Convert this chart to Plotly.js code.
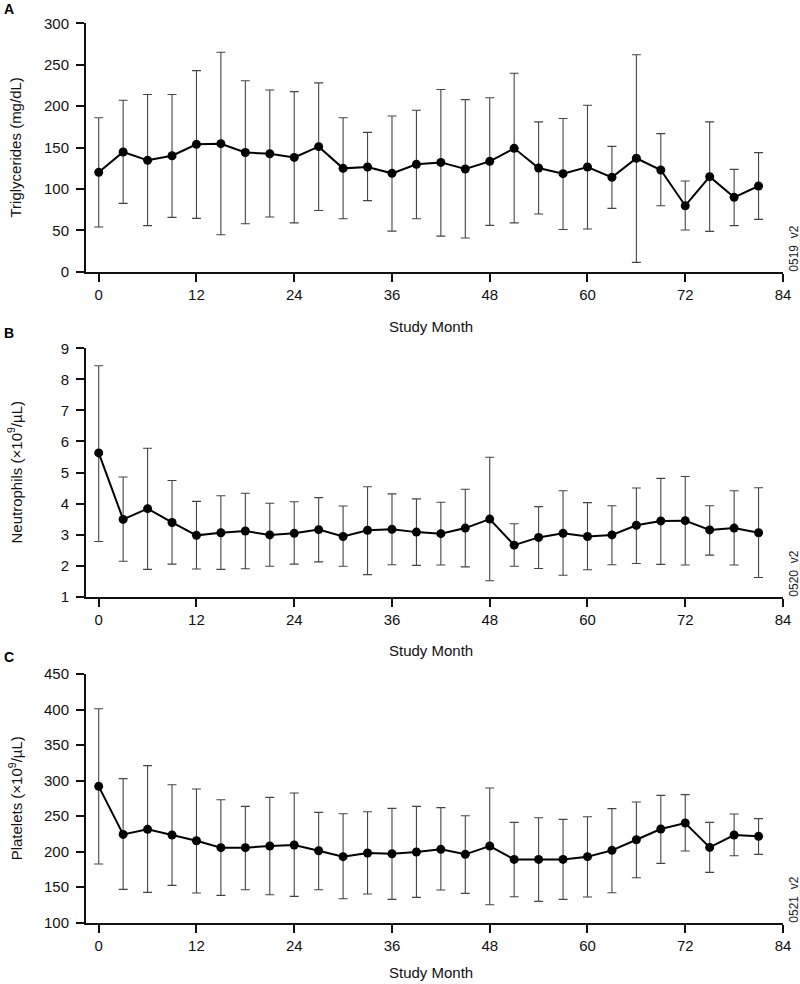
<!DOCTYPE html>
<html>
<head>
<meta charset="utf-8">
<script src="https://cdn.plot.ly/plotly-3.0.1.min.js"></script>
<style>html,body{margin:0;padding:0;background:#fff;}#chart{width:800px;height:984px;}</style>
</head>
<body>
<div id="chart"></div>
<script>
// Study months (x values)
const months = [0,3,6,9,12,15,18,21,24,27,30,33,36,39,42,45,48,51,54,57,60,63,66,69,72,75,78,81];

// Panel A: Triglycerides (mg/dL)
const trigMean  = [120,144.6,134.5,140,153.8,154.6,144,142.5,138,151,124.8,126.4,118.8,129.7,132,124,133.3,149,125.2,118.4,126.4,114,137,122.8,79.7,114.8,89.8,103.5];
const trigUpper = [186,207,214,214,242.8,265,230.7,219.5,217.5,228,186,168.3,188,195,220,207.8,210,239.6,181,185,201,151.4,262,166.7,109.5,181,123.6,143.8];
const trigLower = [54,82.5,55.6,65.6,64.4,44.7,58,66,59,74,64,85.8,49,64,43,40.7,56,59,69.7,51,51.5,76.5,11.3,79.7,50.3,48.7,55.6,63.2];

// Panel B: Neutrophils (x10^9/µL)
const neutMean  = [5.63,3.49,3.835,3.39,2.976,3.06,3.115,2.99,3.04,3.16,2.94,3.14,3.17,3.08,3.03,3.21,3.50,2.66,2.91,3.04,2.94,2.99,3.30,3.44,3.45,3.15,3.21,3.06];
const neutUpper = [8.44,4.855,5.78,4.74,4.07,4.25,4.33,4.01,4.06,4.19,3.92,4.54,4.31,4.15,4.04,4.46,5.49,3.35,3.90,4.41,4.03,3.93,4.50,4.81,4.87,3.93,4.41,4.51];
const neutLower = [2.78,2.14,1.88,2.05,1.89,1.88,1.90,1.98,2.05,2.12,1.98,1.71,2.03,2.01,2.02,1.96,1.515,1.98,1.91,1.69,1.87,2.03,2.07,2.04,2.02,2.34,2.02,1.62];

// Panel C: Platelets (x10^9/µL)
const platMean  = [291.9,224.3,231.4,223.4,215.4,205.6,205.6,207.9,209.3,201.3,192.9,198.1,197.1,199.5,203.2,196.2,207.9,189.1,189.1,189.1,192.9,201.8,216.8,231.8,240.3,206,223.4,221.5];
const platUpper = [401.2,302.7,321,294.2,288.1,273.1,263.7,276.4,282.5,255.3,253.4,256.2,260.9,263.7,261.9,250.6,289.5,241.2,247.8,245.4,249.2,260.5,269.8,279.2,280.2,241.2,253,246.4];
const platLower = [182.6,146.9,142.7,152.5,141.8,138.5,146.4,139.4,137.1,146.4,133.8,140.3,132.8,135.7,146,141.3,125.3,136.6,130,132.8,136.1,142.2,163.3,183.5,200.9,170.8,194.3,196.2];

// Axis / label text
const xTickVals = [0,12,24,36,48,60,72,84];
const xTitle = "Study Month";
const yTitles = ["Triglycerides (mg/dL)", "Neutrophils (×10<sup>9</sup>/µL)", "Platelets (×10<sup>9</sup>/µL)"];
const panelLetters = ["A","B","C"];
const codes = ["0519_v2","0520_v2","0521_v2"];
const yTicks = [[0,50,100,150,200,250,300],[1,2,3,4,5,6,7,8,9],[100,150,200,250,300,350,400,450]];
const yRanges = [[0,300],[1,9],[100,450]];

const W = 800, H = 984;
const FONT = 'Liberation Sans, Arial, Helvetica, sans-serif';
// pixel geometry of each panel (top, bottom of plot area)
const panels = [[23.3,271.7],[348.3,596.7],[674,922.7]];
const xTitleY = [326, 650, 972];
const letterY = [9, 333, 657];
const xLeft = 86, xRight = 783;
const px2fx = p => p / W;
const px2fy = p => 1 - p / H;

const series = [[trigMean,trigUpper,trigLower],[neutMean,neutUpper,neutLower],[platMean,platUpper,platLower]];

const traces = [];
const layout = {
  width: W, height: H,
  margin: {l:0,r:0,t:0,b:0},
  paper_bgcolor: '#fff', plot_bgcolor: '#fff',
  showlegend: false,
  font: {family: FONT, size: 15, color: '#111'},
  annotations: []
};

series.forEach((s, i) => {
  const [mean, up, lo] = s;
  const suf = i === 0 ? '' : String(i+1);
  traces.push({
    x: months, y: mean,
    xaxis: 'x' + suf, yaxis: 'y' + suf,
    type: 'scatter', mode: 'lines+markers',
    line: {color: '#000', width: 2},
    marker: {color: '#000', size: 9},
    error_y: {
      type: 'data', symmetric: false,
      array: up.map((v,k) => v - mean[k]),
      arrayminus: lo.map((v,k) => mean[k] - v),
      color: '#444', thickness: 1.1, width: 4.5
    },
    cliponaxis: false
  });
  const [top, bot] = panels[i];
  layout['xaxis' + suf] = {
    domain: [px2fx(xLeft), px2fx(xRight)],
    anchor: 'y' + suf,
    range: [-1.56, 84],
    tickmode: 'array', tickvals: xTickVals,
    ticks: 'outside', ticklen: 8, tickwidth: 2, tickcolor: '#111',
    showline: true, linewidth: 2, linecolor: '#111',
    showgrid: false, zeroline: false,
    tickfont: {family: FONT, size: 15, color: '#111'}
  };
  layout['yaxis' + suf] = {
    domain: [px2fy(bot), px2fy(top)],
    anchor: 'x' + suf,
    range: yRanges[i],
    tickmode: 'array', tickvals: yTicks[i],
    ticks: 'outside', ticklen: 8, tickwidth: 2, tickcolor: '#111',
    showline: true, linewidth: 2, linecolor: '#111',
    showgrid: false, zeroline: false,
    ticklabelstandoff: 4,
    tickfont: {family: FONT, size: 15, color: '#111'}
  };
  // y title
  layout.annotations.push({
    xref: 'paper', yref: 'paper',
    x: px2fx(15), y: px2fy((top + bot) / 2),
    text: yTitles[i], textangle: -90, showarrow: false,
    xanchor: 'center', yanchor: 'middle',
    font: {family: FONT, size: 15, color: '#111'}
  });
  // x title
  layout.annotations.push({
    xref: 'paper', yref: 'paper',
    x: px2fx(431), y: px2fy(xTitleY[i]),
    text: xTitle, showarrow: false,
    xanchor: 'center', yanchor: 'middle',
    font: {family: FONT, size: 15, color: '#111'}
  });
  // panel letter
  layout.annotations.push({
    xref: 'paper', yref: 'paper',
    x: px2fx(2), y: px2fy(letterY[i]),
    text: '<b>' + panelLetters[i] + '</b>', showarrow: false,
    xanchor: 'left', yanchor: 'middle',
    font: {family: FONT, size: 14, color: '#000'}
  });
  // figure code
  layout.annotations.push({
    xref: 'paper', yref: 'paper',
    x: px2fx(794), y: px2fy(bot - 23),
    text: codes[i], textangle: -90, showarrow: false,
    xanchor: 'center', yanchor: 'middle',
    font: {family: FONT, size: 12, color: '#222'}
  });
});

Plotly.newPlot('chart', traces, layout, {displayModeBar: false, staticPlot: true});
</script>
</body>
</html>
